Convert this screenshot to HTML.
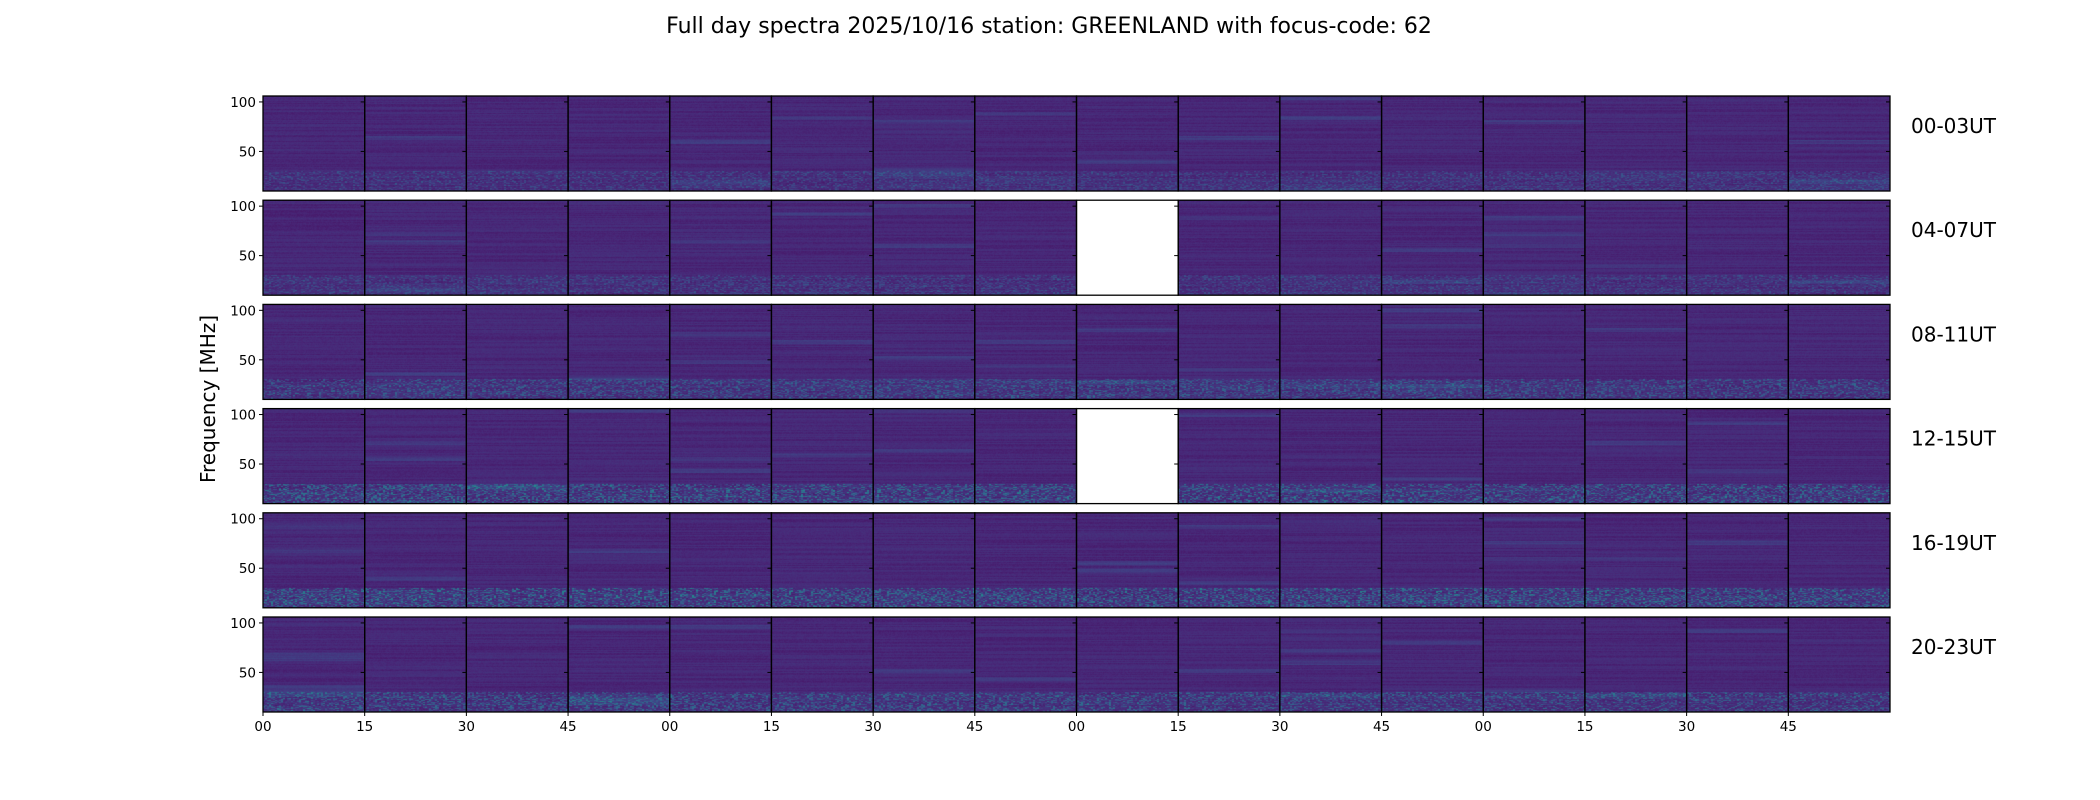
<!DOCTYPE html>
<html><head><meta charset="utf-8">
<style>
html,body{margin:0;padding:0;background:#fff;}
#wrap{position:relative;width:2100px;height:800px;overflow:hidden;font-family:"DejaVu Sans","Liberation Sans",sans-serif;}
canvas{position:absolute;}
svg{position:absolute;left:0;top:0;}
</style></head>
<body>
<div id="wrap">
<svg id="ov" width="2100" height="800" font-family="DejaVu Sans, Liberation Sans, sans-serif"></svg>
</div>
<script>
const rowLabels = ["00-03UT","04-07UT","08-11UT","12-15UT","16-19UT","20-23UT"];
const xTickLabels = ["00","15","30","45","00","15","30","45","00","15","30","45","00","15","30","45"];
const yTickValues = [50, 100];
const missingPanels = [[1,8],[3,8]];
const lowBandLevel = [0.18,0.18,0.28,0.38,0.40,0.32];
const freqMin = 10, freqMax = 106;

const X0 = 263, PW = 1627/16, ROW0 = 96, RP = 104.2, PH = 95;
const ns = "http://www.w3.org/2000/svg";
const ov = document.getElementById('ov');
const wrap = document.getElementById('wrap');
function yScale(r, v){ return ROW0 + r*RP + (freqMax - v)/(freqMax-freqMin)*PH; }
function xScale(i){ return X0 + i*PW; }
function mk(tag, attrs, parent){ const e=document.createElementNS(ns,tag); for(const k in attrs) e.setAttribute(k,attrs[k]); (parent||ov).appendChild(e); return e; }
function hash(a,b,c){ let h=(a*374761393 + b*668265263 + c*2147483647)|0; h=(h^(h>>>13))*1274126177; h=h^(h>>>16); return ((h>>>0)%10000)/10000; }
const stops=[[0,[68,1,84]],[0.13,[72,40,120]],[0.25,[62,73,137]],[0.38,[49,104,142]],[0.5,[38,130,142]],[0.63,[31,158,137]],[0.75,[53,183,121]],[1,[253,231,37]]];
function cmap(v){ v=Math.max(0,Math.min(1,v)); for(let i=1;i<stops.length;i++){ if(v<=stops[i][0]){ const a=stops[i-1],b=stops[i]; const t=(v-a[0])/(b[0]-a[0]); return [0,1,2].map(k=>a[1][k]+(b[1][k]-a[1][k])*t);} } return stops[stops.length-1][1]; }
function isMissing(r,c){ return missingPanels.some(p=>p[0]===r&&p[1]===c); }

for(let r=0;r<rowLabels.length;r++){
  const top = ROW0 + r*RP;
  for(let c=0;c<16;c++){
    const x = xScale(c), w = PW;
    if(!isMissing(r,c)){
      const cv=document.createElement('canvas');
      const W=Math.round(xScale(c+1))-Math.round(x), H=PH;
      cv.width=W; cv.height=H;
      cv.style.left=Math.round(x)+'px'; cv.style.top=Math.round(top)+'px';
      
      
      const ctx=cv.getContext('2d'); const img=ctx.createImageData(W,H);
      for(let yy=0;yy<H;yy++){
        const lineBase = 0.10 + 0.06*hash(yy,c,r) + (hash(yy>>2,c+7,r)>0.95?0.06:0);
        const inLow = yy > H*0.78;
        for(let xx=0;xx<W;xx++){
          let v = lineBase + 0.04*(hash(xx,yy,c*31+r)-0.5);
          if(inLow){ v += lowBandLevel[r]*Math.pow(hash(yy,c*13+(xx>>1),r+5),3); }
          const col=cmap(v); const o=(yy*W+xx)*4;
          img.data[o]=col[0];img.data[o+1]=col[1];img.data[o+2]=col[2];img.data[o+3]=255;
        }
      }
      ctx.putImageData(img,0,0);
      wrap.insertBefore(cv, ov);
    }
    mk('rect',{x:x,y:top,width:w,height:PH,fill:'none',stroke:'#000','stroke-width':1.3,});
    for(const v of yTickValues){
      const y=yScale(r,v);
      mk('line',{x1:x+w-4,x2:x+w,y1:y,y2:y,stroke:'#000','stroke-width':1,});
    }
  }
  for(const v of yTickValues){
    const y=yScale(r,v);
    mk('line',{x1:X0-4,x2:X0,y1:y,y2:y,stroke:'#000','stroke-width':1,});
    const t=mk('text',{x:X0-7,y:y+5,'text-anchor':'end','font-size':13.5,}); t.textContent=v;
  }
  const lab=mk('text',{x:1911,y:top+37,'font-size':20,}); lab.textContent=rowLabels[r];
}
const bottom = ROW0 + 5*RP + PH;
for(let i=0;i<xTickLabels.length;i++){
  const x=xScale(i);
  mk('line',{x1:x,x2:x,y1:bottom,y2:bottom+4,stroke:'#000','stroke-width':1,});
  const t=mk('text',{x:x,y:bottom+19,'text-anchor':'middle','font-size':13.5,}); t.textContent=xTickLabels[i];
}
const ttl=mk('text',{x:1049,y:33,'text-anchor':'middle','font-size':22,}); ttl.textContent="Full day spectra 2025/10/16 station: GREENLAND with focus-code: 62";
const yl=mk('text',{x:0,y:0,'text-anchor':'middle','font-size':20,transform:'translate(215,399) rotate(-90)',}); yl.textContent="Frequency [MHz]";
</script>
</body></html>
